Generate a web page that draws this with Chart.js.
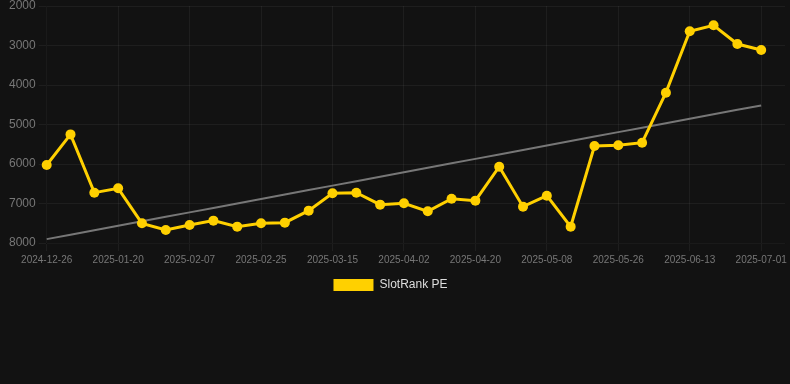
<!DOCTYPE html>
<html>
<head>
<meta charset="utf-8">
<script src="https://cdn.jsdelivr.net/npm/chart.js@4.4.1/dist/chart.umd.min.js"></script>
<style>
  html, body { margin: 0; padding: 0; background: #121212; }
  #wrap { width: 790px; height: 384px; }
</style>
</head>
<body>
<div id="wrap"><canvas id="rankChart"></canvas></div>
<script>
// dates (one spare slot at the end keeps the right margin)
const labels = [
  "2024-12-26", "2025-01-08", "2025-01-14", "2025-01-20", "2025-01-26", "2025-02-01",
  "2025-02-07", "2025-02-13", "2025-02-19", "2025-02-25", "2025-03-03", "2025-03-09",
  "2025-03-15", "2025-03-21", "2025-03-27", "2025-04-02", "2025-04-08", "2025-04-14",
  "2025-04-20", "2025-04-26", "2025-05-02", "2025-05-08", "2025-05-14", "2025-05-20",
  "2025-05-26", "2025-06-01", "2025-06-07", "2025-06-13", "2025-06-19", "2025-06-25",
  "2025-07-01", "2025-07-07"
];
const rankValues = [
  6025, 5250, 6726, 6616, 7502, 7671, 7544, 7434, 7586, 7502, 7485, 7181,
  6742, 6726, 7029, 6995, 7198, 6878, 6928, 6068, 7080, 6802, 7586, 5544,
  5527, 5460, 4194, 2641, 2489, 2962, 3114, null
];
const yTicks = [2000, 3000, 4000, 5000, 6000, 7000, 8000];

// linear trend over the real points
function trendLine(values) {
  const pts = values.map((v, i) => [i, v]).filter((p) => p[1] !== null);
  const n = pts.length;
  let sx = 0, sy = 0, sxy = 0, sxx = 0;
  pts.forEach(([x, y]) => { sx += x; sy += y; sxy += x * y; sxx += x * x; });
  const slope = (n * sxy - sx * sy) / (n * sxx - sx * sx);
  const icpt = (sy - slope * sx) / n;
  return values.map((v, i) => (v === null ? null : icpt + slope * i));
}
const trendValues = trendLine(rankValues);

Chart.defaults.font.family = "'Liberation Sans', Arial, sans-serif";

const gridColor = "rgba(255,255,255,0.05)";

// nudge the legend a little to the left, as in the original
const legendNudge = {
  id: "legendNudge",
  afterLayout(chart) {
    if (chart.legend) {
      chart.legend.left -= 5;
      chart.legend.right -= 5;
    }
  },
};

const ctx = document.getElementById("rankChart");
new Chart(ctx, {
  type: "line",
  plugins: [legendNudge],
  data: {
    labels: labels,
    datasets: [
      {
        label: "SlotRank PE",
        data: rankValues,
        borderColor: "#FFD000",
        backgroundColor: "#FFD000",
        borderWidth: 3,
        pointRadius: 5,
        pointBorderWidth: 0,
        pointHoverRadius: 6,
        tension: 0,
        fill: false,
      },
      {
        label: "trend",
        data: trendValues,
        borderColor: "#777777",
        borderWidth: 2,
        pointRadius: 0,
        fill: false,
      },
    ],
  },
  options: {
    responsive: true,
    maintainAspectRatio: false,
    animation: false,
    layout: { autoPadding: false, padding: { top: 0, bottom: 83, left: 6, right: 5 } },
    plugins: {
      legend: {
        position: "bottom",
        labels: {
          color: "#dddddd",
          boxWidth: 40,
          boxHeight: 12,
          font: { size: 12 },
          filter: (item) => item.text !== "trend",
          generateLabels: function (chart) {
            const items = Chart.defaults.plugins.legend.labels.generateLabels(chart);
            items.forEach((it) => { it.lineWidth = 0; });
            return items;
          },
        },
      },
      tooltip: { enabled: false },
    },
    scales: {
      x: {
        grid: {
          color: (c) => (c.index % 3 === 0 ? gridColor : "rgba(0,0,0,0)"),
        },
        ticks: {
          color: "#777777",
          font: { size: 10 },
          maxRotation: 0,
          autoSkip: false,
          callback: function (val, idx) {
            return idx % 3 === 0 && idx < 31 ? this.getLabelForValue(val) : "";
          },
        },
      },
      y: {
        reverse: true,
        min: yTicks[0],
        max: yTicks[yTicks.length - 1],
        grid: { color: gridColor },
        ticks: {
          color: "#777777",
          font: { size: 12, lineHeight: 0.5 },
          stepSize: 1000,
          callback: (v) => String(v),
        },
      },
    },
  },
});
</script>
</body>
</html>
